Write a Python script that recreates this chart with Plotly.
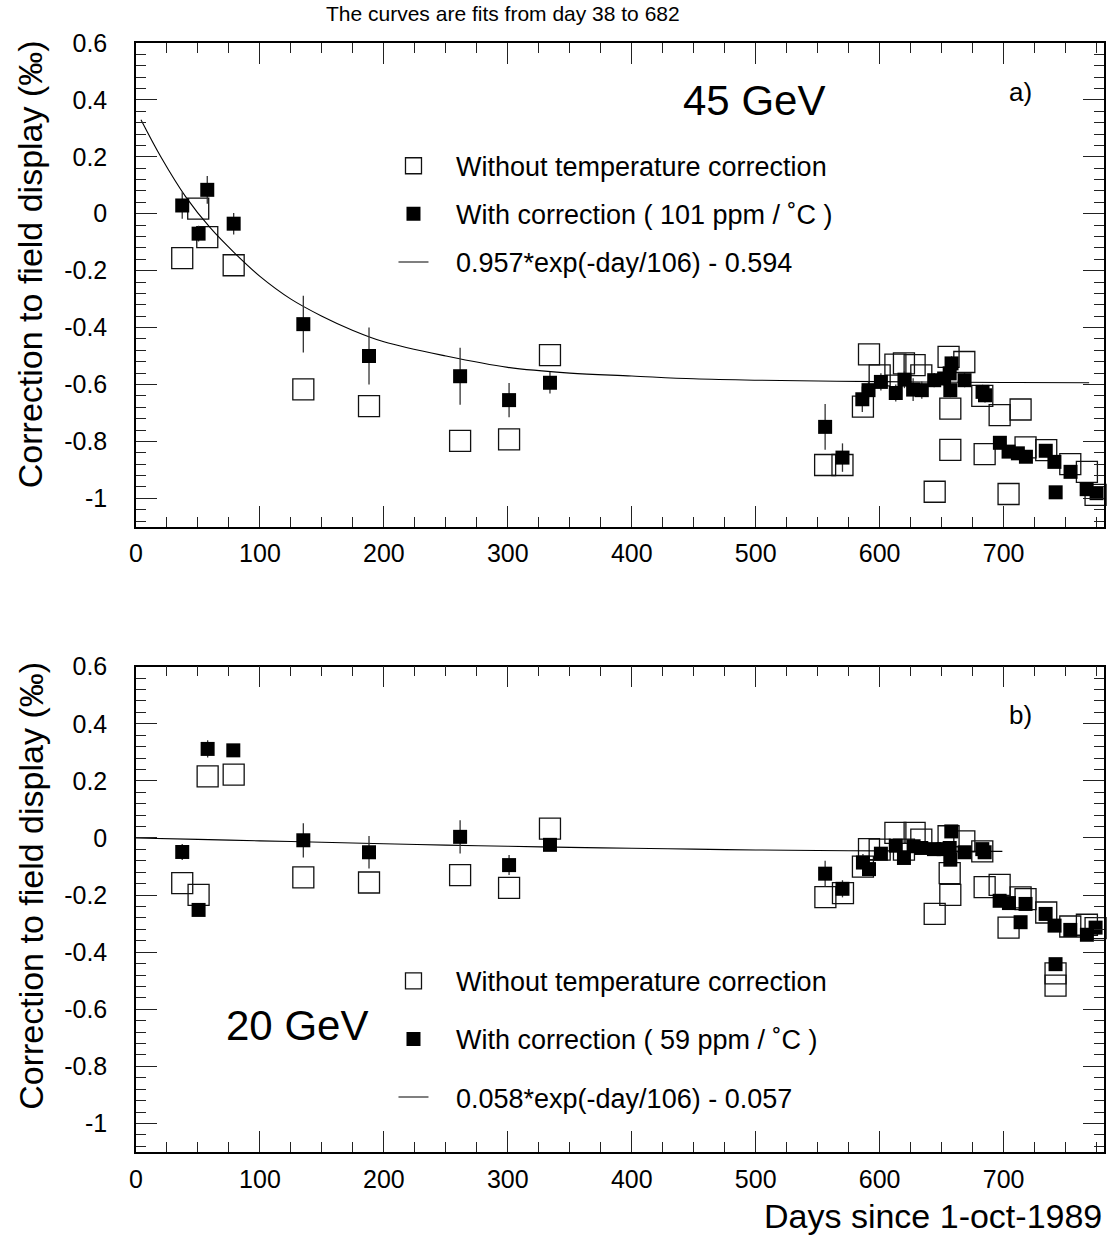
import plotly.graph_objects as go

# ---------------- data ----------------
# 45 GeV panel
top_fill_days = [37.3, 50.5, 57.5, 78.8, 135, 188, 261.5, 301, 334,
                 556, 570, 586, 591, 601, 613, 620, 627, 634, 644, 652,
                 656.5, 658, 657, 668.5, 683, 685, 697, 704, 711.5, 718,
                 734, 741, 742, 754, 767, 775]
top_fill_vals = [0.029, -0.070, 0.084, -0.035, -0.388, -0.500, -0.571, -0.655, -0.594,
                 -0.749, -0.857, -0.652, -0.620, -0.591, -0.630, -0.583, -0.618, -0.620, -0.585, -0.579,
                 -0.561, -0.526, -0.620, -0.585, -0.626, -0.638, -0.805, -0.836, -0.842, -0.854,
                 -0.833, -0.872, -0.979, -0.907, -0.968, -0.982]
top_fill_errs = [0.047, 0.028, 0.049, 0.038, 0.10, 0.10, 0.10, 0.06, 0.038,
                 0.08, 0.05, 0.045, 0.03, 0.03, 0.03, 0.03, 0.04, 0.03, 0.025, 0.025,
                 0.025, 0.025, 0.025, 0.025, 0.025, 0.025, 0.02, 0.02, 0.02, 0.02,
                 0.02, 0.02, 0.02, 0.02, 0.02, 0.02]

top_open_days = [37.3, 50.2, 57.5, 78.8, 135, 188, 261.5, 301, 334,
                 556, 570, 586.5, 591.4, 600, 612.7, 619.6, 628.2, 633.6, 644.4, 655.6,
                 657, 657, 668.3, 682.8, 684.7, 696.8, 704, 713.7, 717.7, 734.4,
                 741.9, 753.8, 767.2, 774.2]
top_open_vals = [-0.156, 0.018, -0.082, -0.181, -0.617, -0.676, -0.798, -0.793, -0.497,
                 -0.883, -0.883, -0.678, -0.494, -0.568, -0.530, -0.526, -0.532, -0.568, -0.977, -0.503,
                 -0.685, -0.830, -0.521, -0.640, -0.845, -0.708, -0.985, -0.688, -0.821, -0.831,
                 -1.103, -0.880, -0.907, -0.988]

top_fit_days = [4, 20, 40, 60, 80, 100, 125, 150, 175, 200, 250, 300, 350, 400, 450, 500, 600, 700, 769]
top_fit_vals = [0.33, 0.20, 0.06, -0.05, -0.14, -0.22, -0.30, -0.36, -0.41, -0.45, -0.50,
                -0.54, -0.56, -0.57, -0.58, -0.585, -0.59, -0.593, -0.594]

# 20 GeV panel
bot_fill_days = [37.3, 50.5, 57.8, 78.5, 135, 188, 261.5, 301, 334,
                 556, 570, 586.5, 591.4, 601, 613, 619.6, 627.4, 633.6, 643.8, 651.6,
                 656.5, 657.8, 657, 668.5, 682.8, 684.7, 696.8, 704.3, 713.7, 717.7,
                 733.9, 741.1, 741.9, 753.8, 767.2, 774.2]
bot_fill_vals = [-0.049, -0.252, 0.312, 0.307, -0.008, -0.050, 0.004, -0.095, -0.024,
                 -0.125, -0.178, -0.086, -0.109, -0.055, -0.027, -0.070, -0.029, -0.035, -0.039, -0.039,
                 -0.035, 0.023, -0.076, -0.050, -0.039, -0.050, -0.220, -0.228, -0.295, -0.231,
                 -0.266, -0.307, -0.442, -0.322, -0.339, -0.314]
bot_fill_errs = [0.028, 0.02, 0.03, 0.02, 0.06, 0.057, 0.058, 0.035, 0.02,
                 0.045, 0.03, 0.03, 0.02, 0.02, 0.02, 0.02, 0.02, 0.02, 0.02, 0.02,
                 0.02, 0.02, 0.02, 0.02, 0.02, 0.02, 0.02, 0.02, 0.02, 0.02,
                 0.02, 0.02, 0.02, 0.02, 0.02, 0.02]

bot_open_days = [37.3, 50.5, 57.8, 78.8, 135, 188, 261.5, 301, 334,
                 556.2, 570.4, 586.5, 591.4, 600, 612.7, 619.6, 628.2, 633.6, 644.4, 655.6,
                 656.5, 657, 668.3, 682.8, 684.7, 696.8, 704, 713.7, 717.7, 734.4,
                 741.9, 741.9, 753.8, 767.2, 774.2]
bot_open_vals = [-0.158, -0.199, 0.216, 0.222, -0.138, -0.156, -0.130, -0.175, 0.033,
                 -0.207, -0.193, -0.100, -0.039, -0.041, 0.018, -0.041, 0.018, -0.006, -0.266, 0.006,
                 -0.123, -0.199, -0.012, -0.047, -0.172, -0.164, -0.314, -0.208, -0.214, -0.261,
                 -0.474, -0.517, -0.310, -0.304, -0.316]

bot_fit_days = [0, 50, 100, 150, 200, 250, 300, 350, 400, 450, 500, 550, 600, 650, 699]
bot_fit_vals = [0.0, -0.005, -0.010, -0.015, -0.020, -0.025, -0.029, -0.033, -0.036,
                -0.039, -0.042, -0.044, -0.045, -0.046, -0.047]

x_ticks = [0, 100, 200, 300, 400, 500, 600, 700]
y_ticks = [0.6, 0.4, 0.2, 0, -0.2, -0.4, -0.6, -0.8, -1]
y_tick_text = ["0.6", "0.4", "0.2", "0", "-0.2", "-0.4", "-0.6", "-0.8", "-1"]

FONT = "Liberation Sans, Arial, Helvetica, sans-serif"
PAD = "\u00a0\u00a0\u00a0"

fig = go.Figure()


def add_panel(xa, ya, legend, open_d, open_v, fill_d, fill_v, fill_e, fit_d, fit_v, labels):
    fig.add_trace(go.Scatter(
        x=open_d, y=open_v, mode="markers", xaxis=xa, yaxis=ya, legend=legend,
        name=PAD + labels[0], legendrank=1, legendgroup=legend + "a", cliponaxis=False,
        marker=dict(symbol="square-open", size=21, color="#111", line=dict(width=1.3, color="#111")),
    ))
    fig.add_trace(go.Scatter(
        x=fit_d, y=fit_v, mode="lines", xaxis=xa, yaxis=ya, legend=legend,
        name=PAD + labels[2], legendrank=3, legendgroup=legend + "c",
        line=dict(color="black", width=1.1, shape="spline"),
    ))
    fig.add_trace(go.Scatter(
        x=fill_d, y=fill_v, mode="markers", xaxis=xa, yaxis=ya, legend=legend,
        name=PAD + labels[1], legendrank=2, legendgroup=legend + "b", cliponaxis=False,
        marker=dict(symbol="square", size=14, color="black"),
        error_y=dict(type="data", array=fill_e, visible=True, color="#333", thickness=1.3, width=0),
    ))


add_panel("x", "y", "legend", top_open_days, top_open_vals, top_fill_days, top_fill_vals,
          top_fill_errs, top_fit_days, top_fit_vals,
          ["Without temperature correction", "With correction ( 101 ppm / ˚C )",
           "0.957*exp(-day/106) - 0.594"])
add_panel("x2", "y2", "legend2", bot_open_days, bot_open_vals, bot_fill_days, bot_fill_vals,
          bot_fill_errs, bot_fit_days, bot_fit_vals,
          ["Without temperature correction", "With correction ( 59 ppm / ˚C )",
           "0.058*exp(-day/106) - 0.057"])

xaxis_common = dict(
    range=[0, 781], tickvals=x_ticks, ticks="inside", ticklen=21, tickwidth=1, tickcolor="#222",
    minor=dict(dtick=25, tick0=0, ticks="inside", ticklen=10, tickwidth=1, tickcolor="#222"),
    showline=True, linecolor="black", linewidth=1.5, mirror="ticks", showgrid=False, zeroline=False,
    tickfont=dict(size=25, color="black", family=FONT), ticklabelstandoff=4,
)
yaxis_common = dict(
    range=[-1.1, 0.6], tickvals=y_ticks, ticktext=y_tick_text, ticks="inside", ticklen=21, tickwidth=1,
    tickcolor="#222",
    minor=dict(dtick=0.04, tick0=0, ticks="inside", ticklen=10, tickwidth=1, tickcolor="#222"),
    showline=True, linecolor="black", linewidth=1.5, mirror="ticks", showgrid=False, zeroline=False,
    tickfont=dict(size=25, color="black", family=FONT), ticklabelstandoff=22,
)

fig.update_layout(
    width=1111, height=1235,
    margin=dict(l=136, r=5, t=43, b=83),
    paper_bgcolor="white", plot_bgcolor="white",
    font=dict(family=FONT, color="black"),
    xaxis=dict(xaxis_common, domain=[0, 1], anchor="y"),
    yaxis=dict(yaxis_common, domain=[0.5638, 1], anchor="x"),
    xaxis2=dict(xaxis_common, domain=[0, 1], anchor="y2"),
    yaxis2=dict(yaxis_common, domain=[0, 0.4376], anchor="x2"),
    legend=dict(x=0.266, y=0.911, xanchor="left", yanchor="top", bgcolor="rgba(0,0,0,0)",
                font=dict(size=27, family=FONT), traceorder="grouped", tracegroupgap=10,
                itemsizing="trace"),
    legend2=dict(x=0.266, y=0.176, xanchor="left", yanchor="top", bgcolor="rgba(0,0,0,0)",
                 font=dict(size=27, family=FONT), traceorder="grouped", tracegroupgap=20,
                 itemsizing="trace"),
    showlegend=True,
)

annots = [
    dict(text="The curves are fits from day 38 to 682", x=0.379, y=1.027, size=21),
    dict(text="45 GeV", x=0.638, y=0.9486, size=42),
    dict(text="a)", x=0.9134, y=0.9558, size=26),
    dict(text="b)", x=0.9134, y=0.394, size=26),
    dict(text="20 GeV", x=0.166, y=0.1145, size=42),
]
for a in annots:
    fig.add_annotation(text=a["text"], x=a["x"], y=a["y"], xref="paper", yref="paper",
                       showarrow=False, xanchor="center", yanchor="middle",
                       font=dict(size=a["size"], family=FONT, color="black"))

fig.add_annotation(text="Days since 1-oct-1989", x=1.0, y=-0.0575, xref="paper", yref="paper",
                   showarrow=False, xanchor="right", yanchor="middle",
                   font=dict(size=34, family=FONT, color="black"))
for ytop in (1.0045, 0.444):
    fig.add_annotation(text="Correction to field display (‰)", x=-0.1093, y=ytop,
                       xref="paper", yref="paper", showarrow=False, textangle=-90,
                       xanchor="center", yanchor="top",
                       font=dict(size=34, family=FONT, color="black"))

fig.write_html("out.html", config={"displayModeBar": False},
               post_script="document.body.style.margin='0';")
